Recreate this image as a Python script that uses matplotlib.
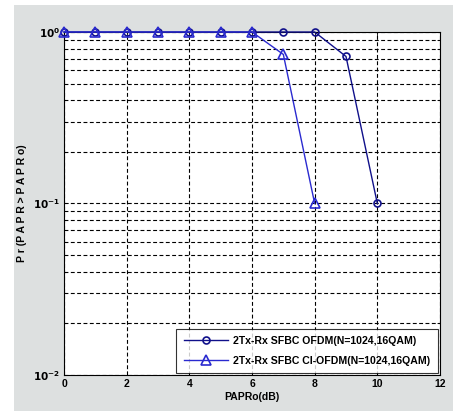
import numpy as np
import matplotlib.pyplot as plt
from matplotlib.patches import Rectangle

# PAPR CCDF values
papr0 = [0, 1, 2, 3, 4, 5, 6, 7, 8, 9, 10]
ccdf_ofdm = [1, 1, 1, 1, 1, 1, 1, 1, 1, 0.72, 0.1]
papr0_ci = [0, 1, 2, 3, 4, 5, 6, 7, 8]
ccdf_ci = [1, 1, 1, 1, 1, 1, 1, 0.74, 0.1]
labels = ['2Tx-Rx SFBC OFDM(N=1024,16QAM)', '2Tx-Rx SFBC CI-OFDM(N=1024,16QAM)']
xticks = [0, 2, 4, 6, 8, 10, 12]

plt.rcParams['font.family'] = ['Liberation Sans', 'DejaVu Sans']

fig = plt.figure(figsize=(4.53, 4.11), dpi=100)
fig.patches.append(Rectangle((14 / 453, 0), 1, 1 - 5 / 411, transform=fig.transFigure,
                             facecolor='#dde0e0', edgecolor='none', zorder=-10))
ax = fig.add_axes([64 / 453, 36 / 411, 376 / 453, 343 / 411])

ax.semilogy(papr0, ccdf_ofdm, '-o', color='#10108a', lw=1.0, ms=5,
            mfc='none', mew=1.2, label=labels[0], clip_on=False, zorder=5)
ax.semilogy(papr0_ci, ccdf_ci, '-^', color='#2a2ad0', lw=1.0, ms=6.5,
            mfc='none', mew=1.2, label=labels[1], clip_on=False, zorder=5)

ax.set_xlim(0, 12)
ax.set_ylim(1e-2, 1)
ax.set_xticks(xticks)
ax.set_xticklabels([str(t) for t in xticks], fontweight='bold', fontsize=7.5)
ax.set_yticks([1e-2, 1e-1, 1])
ax.set_yticklabels([r'$\mathbf{10^{-2}}$', r'$\mathbf{10^{-1}}$', r'$\mathbf{10^{0}}$'], fontsize=7.5)

dash = (0, (3.5, 2.2))
ax.grid(True, which='major', axis='x', color='black', lw=0.8, linestyle=dash)
ax.grid(True, which='both', axis='y', color='black', lw=0.8, linestyle=dash)
ax.tick_params(which='both', direction='in', top=True, right=True, length=3, width=0.6, pad=3)
ax.tick_params(which='minor', length=2)
for s in ax.spines.values():
    s.set_linewidth(0.8)

ax.set_xlabel('PAPRo(dB)', fontweight='bold', fontsize=7.5, labelpad=2)
ax.set_ylabel('P r (P A P R > P A P R o)', fontweight='bold', fontsize=7.5, labelpad=4)

leg = ax.legend(loc='lower right', frameon=True, fancybox=False,
                borderpad=0.7, handlelength=4.2, handletextpad=0.5, labelspacing=0.9,
                borderaxespad=0.2, prop={'weight': 'bold', 'size': 7.6})
leg.get_frame().set_edgecolor('black')
leg.get_frame().set_linewidth(0.8)
leg.set_zorder(10)

fig.savefig('out.png', dpi=100)
